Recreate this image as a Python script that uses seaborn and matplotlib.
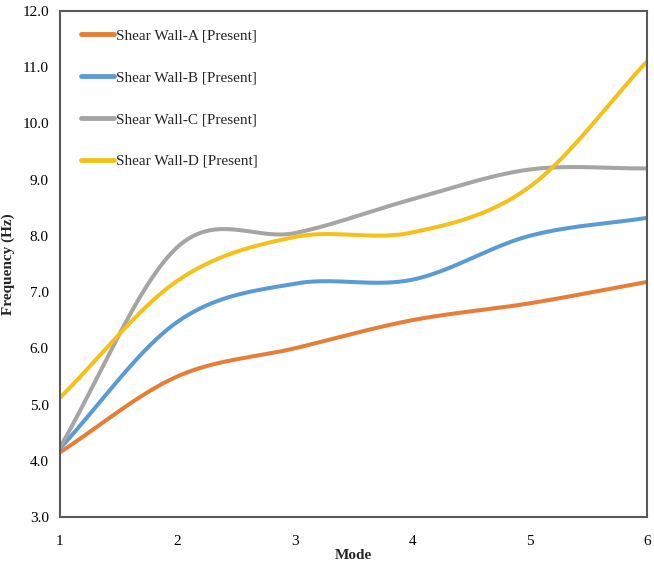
import numpy as np
import pandas as pd
import seaborn as sns
import matplotlib
matplotlib.use('Agg')
import matplotlib.pyplot as plt

sns.set_style('white')
plt.rcParams['font.family'] = ['Liberation Serif', 'DejaVu Serif']

modes = [1, 2, 3, 4, 5, 6]
wall_a = [4.15, 5.50, 6.00, 6.50, 6.80, 7.18]
wall_b = [4.22, 6.47, 7.15, 7.22, 8.00, 8.32]
wall_c = [4.24, 7.80, 8.05, 8.65, 9.18, 9.20]
wall_d = [5.12, 7.20, 7.98, 8.06, 8.87, 11.10]
labels = ['Shear Wall-A [Present]', 'Shear Wall-B [Present]',
          'Shear Wall-C [Present]', 'Shear Wall-D [Present]']
colors = ['#E67E37', '#5B9BD5', '#A5A5A5', '#F5C01A']


def smooth(x, y, n=60):
    # excel-like smoothed line (catmull-rom through the points)
    x = np.asarray(x, float)
    y = np.asarray(y, float)
    m = np.zeros_like(y)
    m[1:-1] = (y[2:] - y[:-2]) / 2
    m[0] = y[1] - y[0]
    m[-1] = y[-1] - y[-2]
    xs, ys = [], []
    for i in range(len(x) - 1):
        t = np.linspace(0, 1, n, endpoint=(i == len(x) - 2))
        h00 = 2 * t**3 - 3 * t**2 + 1
        h10 = t**3 - 2 * t**2 + t
        h01 = -2 * t**3 + 3 * t**2
        h11 = t**3 - t**2
        ys.append(h00 * y[i] + h10 * m[i] + h01 * y[i + 1] + h11 * m[i + 1])
        xs.append(x[i] + t * (x[i + 1] - x[i]))
    return np.concatenate(xs), np.concatenate(ys)


frames = []
for lab, vals in zip(labels, [wall_a, wall_b, wall_c, wall_d]):
    sx, sy = smooth(modes, vals)
    frames.append(pd.DataFrame({'Mode': sx, 'Frequency': sy, 'Wall': lab}))
df = pd.concat(frames, ignore_index=True)

fig = plt.figure(figsize=(6.54, 5.65), dpi=100)
ax = fig.add_axes([0.0917, 0.085, 0.8973, 0.8955])

sns.lineplot(data=df, x='Mode', y='Frequency', hue='Wall', palette=colors,
             linewidth=2.9, ax=ax, sort=False, estimator=None)

ax.set_xlim(1, 6)
ax.set_ylim(3, 12)
ax.set_xticks(modes)
ax.set_yticks(np.arange(3, 12.5, 1))
ax.set_yticklabels(['%.1f' % v for v in np.arange(3, 12.5, 1)])
ax.tick_params(direction='in', length=4, width=1.2, colors='#404040',
               labelsize=11, labelcolor='black', pad=8)
ax.tick_params(axis='x', pad=13)
for s in ax.spines.values():
    s.set_color('#595959')
    s.set_linewidth(1.5)

ax.set_xlabel('Mode', fontsize=11, fontweight='bold')
ax.set_ylabel('Frequency (Hz)', fontsize=11, fontweight='bold')
ax.xaxis.set_label_coords(0.5, -0.063)
ax.yaxis.set_label_coords(-0.077, 0.5)

leg = ax.legend(loc='upper left', bbox_to_anchor=(0.012, 0.992), frameon=False,
                fontsize=11, handlelength=2.2, handletextpad=0.1,
                labelspacing=1.84)
for line in leg.get_lines():
    line.set_linewidth(3.5)

fig.savefig('out.png', dpi=100)
